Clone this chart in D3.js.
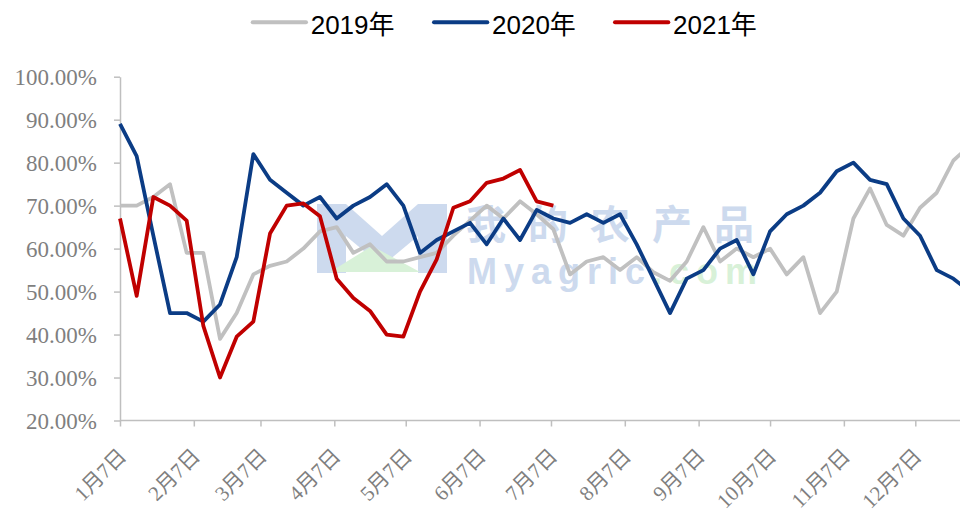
<!DOCTYPE html>
<html>
<head>
<meta charset="utf-8">
<script src="https://cdn.jsdelivr.net/npm/d3@7"></script>
<style>
  body { margin: 0; background: #fff; }
  svg { display: block; }
</style>
</head>
<body>
<script>
// weekly ratio by year, 2019 / 2020 / 2021 (values in %)

var weeks = [
  "01-07", "01-14", "01-21", "01-28", "02-04", "02-11", "02-18", "02-25",
  "03-04", "03-11", "03-18", "03-25", "04-01", "04-08", "04-15", "04-22", "04-29",
  "05-06", "05-13", "05-20", "05-27", "06-03", "06-10", "06-17", "06-24",
  "07-01", "07-08", "07-15", "07-22", "07-29", "08-05", "08-12", "08-19", "08-26",
  "09-02", "09-09", "09-16", "09-23", "09-30", "10-07", "10-14", "10-21", "10-28",
  "11-04", "11-11", "11-18", "11-25", "12-02", "12-09", "12-16", "12-23", "12-30"
];

var y2019 = [70, 70, 72, 75, 59, 59, 39, 45, 54, 56, 57, 60, 64, 65, 59, 61, 57,
  57, 58, 59, 63, 66.5, 70, 67, 71, 68, 64.5, 54, 57, 58, 55, 58, 54.5, 52.5,
  57, 65, 57, 60, 58, 60, 54, 58, 45, 50, 67, 74, 65.5, 63, 69.5, 73, 80.5, 84];

var y2020 = [89, 81.5, 63, 45, 45, 43, 47, 58, 82, 76, 73, 70, 72, 67, 70, 72, 75,
  70, 59, 62, 64, 66, 61, 67, 62, 69, 67, 66, 68, 66, 68, 61, 53, 45,
  53, 55, 60, 62, 54, 64, 68, 70, 73, 78, 80, 76, 75, 67, 63, 55, 53, 50];

var y2021 = [67, 49, 72, 70, 66.5, 42, 30, 39.5, 43, 63.5, 70, 70.5, 67.5, 53, 48.5,
  45.5, 40, 39.5, 50, 57.5, 69.5, 71, 75.3, 76.3, 78.3, 71, 70];

var seriesNames = ["2019年", "2020年", "2021年"];
var seriesColors = ["#c0c0c0", "#0b3c85", "#c00000"];

var tickDates = ["01-07", "02-07", "03-07", "04-07", "05-07", "06-07",
  "07-07", "08-07", "09-07", "10-07", "11-07", "12-07"];
var tickLabels = ["1月7日", "2月7日", "3月7日", "4月7日", "5月7日", "6月7日",
  "7月7日", "8月7日", "9月7日", "10月7日", "11月7日", "12月7日"];

var yTicks = [20, 30, 40, 50, 60, 70, 80, 90, 100];

var parse = d3.timeParse("%Y-%m-%d");
function day(s) { return parse("2021-" + s); }

var svg = d3.select("body")
  .append("svg")
  .attr("width", 960)
  .attr("height", 514);

var x = d3.scaleTime()
  .domain([day("01-07"), day("12-07")])
  .range([120, 915.3]);

var y = d3.scaleLinear()
  .domain([20, 100])
  .range([420.5, 76.7]);

// watermark
var wm = svg.append("g").attr("class", "watermark");
wm.append("path")
  .attr("d", "M317,204 L346,204 L382,236 L418,204 L447,204 L447,273 L418,273 L418,236 L382,266 L346,236 L346,273 L317,273 Z")
  .attr("fill", "#cddaee");
wm.append("path")
  .attr("d", "M330,272 L372,246 L420,272 Z")
  .attr("fill", "#d8f1d8");
wm.append("text")
  .attr("x", 466)
  .attr("y", 239)
  .attr("font-family", "Noto Sans CJK SC")
  .attr("font-weight", "bold")
  .attr("font-size", 40)
  .attr("letter-spacing", 22)
  .attr("fill", "#cddaee")
  .text("我的农产品");
var wmt = wm.append("text")
  .attr("x", 467)
  .attr("y", 284)
  .attr("font-family", "Liberation Sans, Arial, sans-serif")
  .attr("font-weight", "bold")
  .attr("font-size", 36)
  .attr("letter-spacing", 7);
wmt.append("tspan").attr("fill", "#cddaee").text("Myagric");
wmt.append("tspan").attr("fill", "#d8f1d8").text(".com");

// y axis
var yAxis = svg.append("g")
  .attr("transform", "translate(120,0)")
  .call(d3.axisLeft(y).tickValues(yTicks).tickSize(6).tickSizeOuter(0)
    .tickFormat(function (d) { return d.toFixed(2) + "%"; }));
yAxis.select(".domain").attr("stroke", "#bfbfbf").attr("stroke-width", 1.5);
yAxis.selectAll(".tick line").attr("stroke", "#bfbfbf").attr("stroke-width", 1.5);
yAxis.selectAll(".tick text")
  .attr("x", -23)
  .attr("dy", "0.36em")
  .attr("fill", "#7f7f7f")
  .attr("font-family", "Liberation Serif, Times New Roman, serif")
  .attr("font-size", 23);

// x axis
var xAxis = svg.append("g")
  .attr("transform", "translate(0,420.5)")
  .call(d3.axisBottom(x).tickValues(tickDates.map(day)).tickSize(6).tickSizeOuter(0)
    .tickFormat(function (d, i) { return tickLabels[i]; }));
xAxis.select(".domain").attr("stroke", "#bfbfbf").attr("stroke-width", 1.5)
  .attr("d", "M120,0H960");
xAxis.selectAll(".tick line").attr("stroke", "#bfbfbf").attr("stroke-width", 1.5);
xAxis.selectAll(".tick text")
  .attr("y", 0)
  .attr("dy", 0)
  .attr("text-anchor", "end")
  .attr("transform", "translate(7,37) rotate(-45)")
  .attr("fill", "#7f7f7f")
  .attr("font-family", "Liberation Serif, Times New Roman, Noto Sans CJK SC, serif")
  .attr("font-size", 21);

// lines
var line = d3.line()
  .x(function (d, i) { return x(day(weeks[i])); })
  .y(function (d) { return y(d); });

[y2019, y2020, y2021].forEach(function (vals, s) {
  svg.append("path")
    .datum(vals)
    .attr("fill", "none")
    .attr("stroke", seriesColors[s])
    .attr("stroke-width", 3.8)
    .attr("stroke-linejoin", "round")
    .attr("d", line);
});

// legend
var legendX = [252.7, 434, 615];
var legend = svg.append("g");
seriesNames.forEach(function (name, s) {
  legend.append("line")
    .attr("x1", legendX[s]).attr("x2", legendX[s] + 53.3)
    .attr("y1", 22.3).attr("y2", 22.3)
    .attr("stroke", seriesColors[s])
    .attr("stroke-width", 4)
    .attr("stroke-linecap", "round");
  legend.append("text")
    .attr("x", legendX[s] + 58)
    .attr("y", 34)
    .attr("font-family", "Liberation Sans, Arial, Noto Sans CJK SC, sans-serif")
    .attr("font-size", 26)
    .attr("fill", "#000")
    .text(name);
});
</script>
</body>
</html>
